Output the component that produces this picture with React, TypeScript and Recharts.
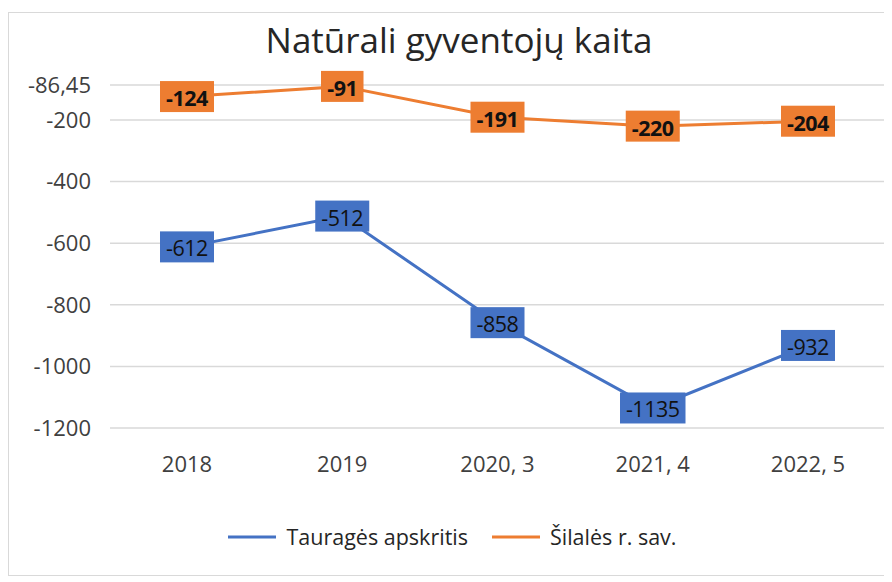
import React from 'react';
import { LineChart, Line, XAxis, YAxis, CartesianGrid, Legend, LabelList } from 'recharts';

const categories = ['2018', '2019', '2020, 3', '2021, 4', '2022, 5'];
const tauragesValues = [-612, -512, -858, -1135, -932];
const silalesValues = [-124, -91, -191, -220, -204];
const yTicks = [-86.45, -200, -400, -600, -800, -1000, -1200];
const seriesNames = ['Tauragės apskritis', 'Šilalės r. sav.'];
const seriesColors = ['#4472C4', '#ED7D31'];

const data = categories.map((c, i) => ({
  cat: c,
  taurages: tauragesValues[i],
  silales: silalesValues[i],
}));

const FONT = '"Open Sans", "Noto Sans", sans-serif';

const makeLabel = (color: string, bold: boolean) => (props: any) => {
  const { x, y, value } = props;
  const txt = String(value);
  const w = txt.length * 11.5 + 8;
  const h = 31;
  return (
    <g>
      <rect x={x - w / 2} y={y - h / 2} width={w} height={h} fill={color} />
      <text
        x={x}
        y={y + 1}
        textAnchor="middle"
        dominantBaseline="central"
        fontFamily={FONT}
        fontSize={21.5}
        fontWeight={bold ? 700 : 400}
        fill="#111"
        letterSpacing={-0.5}
      >
        {txt}
      </text>
    </g>
  );
};

const LegendContent = () => (
  <div style={{ display: 'flex', justifyContent: 'center', alignItems: 'center', fontFamily: FONT, fontSize: 21.5, color: '#262626' }}>
    {seriesNames.map((n, i) => (
      <div key={n} style={{ display: 'flex', alignItems: 'center', marginRight: i === 0 ? 24 : 0 }}>
        <svg width={48} height={10} style={{ marginRight: 10 }}>
          <line x1={0} y1={5} x2={48} y2={5} stroke={seriesColors[i]} strokeWidth={3} />
        </svg>
        <span>{n}</span>
      </div>
    ))}
  </div>
);

export default function App() {
  return (
    <div
      style={{
        position: 'relative',
        width: 880,
        height: 562,
        marginTop: 4,
        border: '1px solid #d9d9d9',
        background: '#fff',
      }}
    >
      <div
        style={{
          position: 'absolute',
          top: 3,
          left: 0,
          width: 900,
          textAlign: 'center',
          fontFamily: FONT,
          fontSize: 35,
          color: '#262626',
        }}
      >
        Natūrali gyventojų kaita
      </div>
      <LineChart
        width={880}
        height={562}
        data={data}
        margin={{ top: 72, right: 4, left: 11, bottom: 27 }}
      >
        <CartesianGrid vertical={false} stroke="#d9d9d9" strokeWidth={1.5} />
        <XAxis
          dataKey="cat"
          axisLine={false}
          tickLine={false}
          height={94}
          tickMargin={22}
          padding={{ left: 77, right: 77 }}
          tick={{ fontFamily: FONT, fontSize: 22, fill: '#404040' }}
        />
        <YAxis
          type="number"
          domain={[-1200, -86.45]}
          ticks={yTicks}
          interval={0}
          axisLine={false}
          tickLine={false}
          width={90}
          tickMargin={13}
          allowDataOverflow
          tickFormatter={(v: number) => String(v).replace('.', ',')}
          tick={{ fontFamily: FONT, fontSize: 22, fill: '#404040' }}
        />
        <Legend verticalAlign="bottom" height={26} content={<LegendContent />} />
        <Line
          type="linear"
          dataKey="taurages"
          name={seriesNames[0]}
          stroke={seriesColors[0]}
          strokeWidth={3}
          dot={false}
          isAnimationActive={false}
        >
          <LabelList dataKey="taurages" content={makeLabel(seriesColors[0], false)} />
        </Line>
        <Line
          type="linear"
          dataKey="silales"
          name={seriesNames[1]}
          stroke={seriesColors[1]}
          strokeWidth={3}
          dot={false}
          isAnimationActive={false}
        >
          <LabelList dataKey="silales" content={makeLabel(seriesColors[1], true)} />
        </Line>
      </LineChart>
    </div>
  );
}
